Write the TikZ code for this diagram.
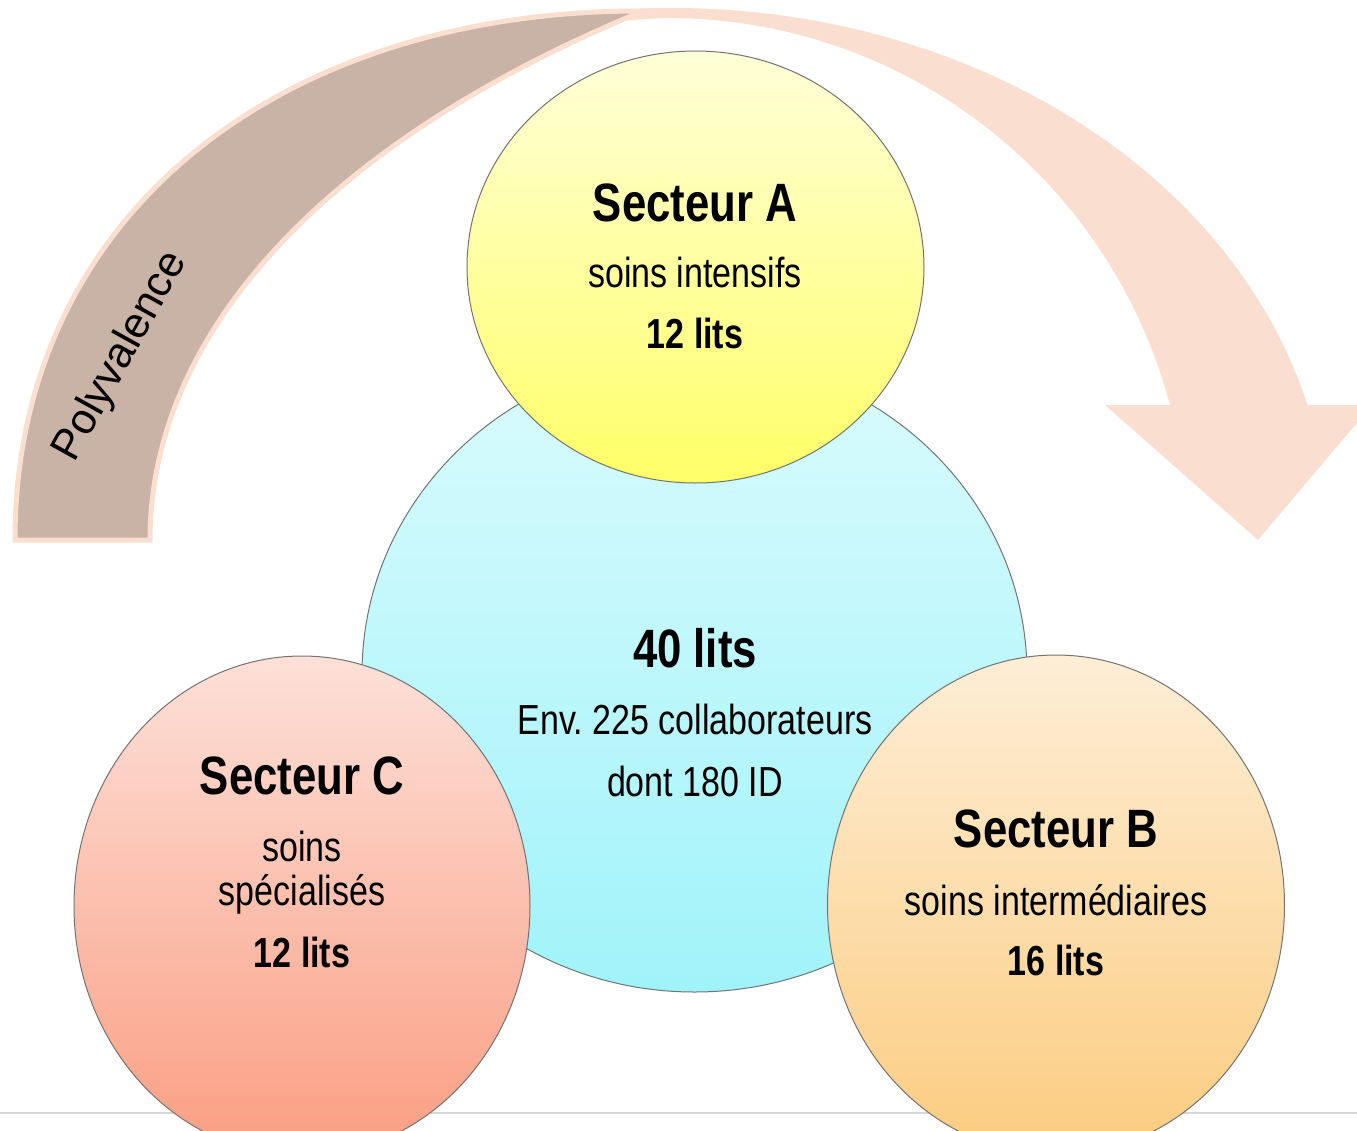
\documentclass[tikz,border=0pt]{standalone}
\usepackage{fontspec}
\setmainfont{Liberation Sans}[FakeStretch=0.81]
\newfontfamily\polyfont{Liberation Sans}
\usetikzlibrary{shapes.geometric}
\definecolor{peche}{RGB}{250,222,207}
\definecolor{taupe}{RGB}{201,178,166}
\definecolor{jauneH}{RGB}{255,255,216}
\definecolor{jauneB}{RGB}{255,255,104}
\definecolor{cyanH}{RGB}{218,251,253}
\definecolor{cyanB}{RGB}{160,243,250}
\definecolor{roseH}{RGB}{253,224,216}
\definecolor{roseB}{RGB}{250,158,130}
\definecolor{oranH}{RGB}{253,238,214}
\definecolor{oranB}{RGB}{252,204,128}
\frenchspacing
\begin{document}
\begin{tikzpicture}[x=0.5pt,y=-0.5pt,
    bulle/.style={ellipse,draw=black!55,line width=0.5pt,inner sep=0pt},
    titre/.style={anchor=base,inner sep=0pt,font=\bfseries\fontsize{27}{30}\selectfont},
    texte/.style={anchor=base,inner sep=0pt,font=\fontsize{21}{25}\selectfont},
    lits/.style={anchor=base,inner sep=0pt,font=\bfseries\fontsize{21}{25}\selectfont}]
    \useasboundingbox (0,0) rectangle (1357,1131);
    \clip (0,0) rectangle (1357,1131);
    \draw[line width=1pt,black!16] (0,1113) -- (1357,1113);
    % fleche
    \fill[peche] (15,540) .. controls (15,215) and (300,8) .. (672,8)
        arc[start angle=270,end angle=345.3,x radius=657,y radius=532]
        -- (1372,405) -- (1258,540) -- (1105,405) -- (1170,405)
        arc[start angle=345,end angle=270,x radius=519,y radius=522]
        .. controls (350,25) and (150,300) .. (150,540) -- cycle;
    \filldraw[fill=taupe,draw=peche,line width=2.5pt] (15,540)
        .. controls (15,215) and (280,10) .. (643,11)
        .. controls (330,140) and (150,330) .. (150,540) -- cycle;
    \node[rotate=61,inner sep=0pt,font=\polyfont\fontsize{21.5}{25}\selectfont] (P) at (121,357) {Polyvalence};
    % bulles
    \node[bulle,minimum width=332.5pt,minimum height=318pt,top color=cyanH,bottom color=cyanB] (M) at (694.5,674) {};
    \node[bulle,minimum width=228.5pt,minimum height=216pt,top color=jauneH,bottom color=jauneB] (A) at (695.5,267) {};
    \node[bulle,minimum width=228pt,minimum height=250pt,top color=roseH,bottom color=roseB] (C) at (302,906) {};
    \node[bulle,minimum width=228.5pt,minimum height=250pt,top color=oranH,bottom color=oranB] (B) at (1056,905) {};
    % textes
    \node[titre] (A1) at (695,221) {Secteur A};
    \node[texte] (A2) at (695,287) {soins intensifs};
    \node[lits] (A3) at (695,348) {12 lits};
    \node[titre] (M1) at (695,667) {40 lits};
    \node[texte] (M2) at (695,734) {Env. 225 collaborateurs};
    \node[texte] (M3) at (695,796) {dont 180 ID};
    \node[titre] (C1) at (302,794) {Secteur C};
    \node[texte] (C2) at (302,861) {soins};
    \node[texte] (C3) at (302,905) {spécialisés};
    \node[lits] (C4) at (302,967) {12 lits};
    \node[titre] (B1) at (1056,847) {Secteur B};
    \node[texte] (B2) at (1056,915) {soins intermédiaires};
    \node[lits] (B3) at (1056,975) {16 lits};
\end{tikzpicture}
\end{document}
